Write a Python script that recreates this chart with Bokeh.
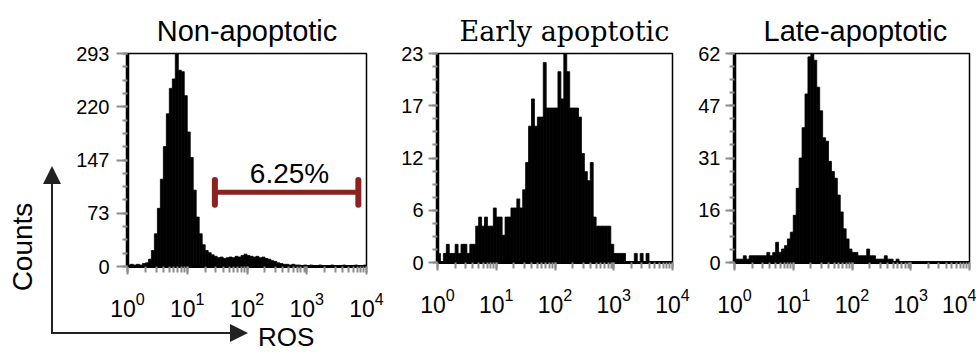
import math
from bokeh.plotting import figure
from bokeh.layouts import row, column
from bokeh.models import (Range1d, FixedTicker, LogTicker, Label, Div)
from bokeh.embed import file_html
from bokeh.resources import INLINE

# ---------------- data ----------------
bin_width_log = 0.05          # histogram channel width in decades
x_start, x_end = 1, 10000

non_apoptotic_counts = [
    2, 3, 2, 3, 2, 4, 5, 10, 22, 45,
    80, 120, 165, 210, 245, 258, 293, 270, 268, 235,
    185, 150, 105, 68, 45, 30, 22, 19, 16, 14,
    12, 13, 11, 12, 13, 12, 14, 13, 15, 17,
    15, 14, 13, 14, 12, 13, 11, 10, 8, 7,
    5, 4, 3, 3, 2, 3, 2, 2, 1, 2,
    1, 2, 1, 1, 2, 1, 1, 1, 2, 1,
    1, 1, 2, 1, 1, 1, 2, 1, 1, 2,
]
early_apoptotic_counts = [
    1, 0, 1, 2, 1, 1, 2, 1, 2, 2,
    1, 2, 2, 4, 5, 4, 5, 4, 4, 6,
    5, 5, 3, 5, 5, 6, 6, 7, 6, 8,
    11, 15, 18, 15, 16, 16, 22, 17, 17, 17,
    17, 21, 18, 23, 21, 17, 17, 17, 16, 12,
    10, 9, 11, 5, 4, 4, 4, 4, 4, 2,
    1, 1, 1, 1, 0, 0, 0, 1, 0, 1,
    0, 1, 0, 0, 0, 0, 0, 0, 0, 0,
]
late_apoptotic_counts = [
    1, 1, 1, 2, 1, 2, 2, 2, 2, 2,
    2, 3, 2, 3, 6, 3, 4, 5, 7, 9,
    14, 22, 31, 40, 50, 61, 62, 60, 52, 45,
    37, 36, 30, 27, 25, 20, 15, 10, 7, 4,
    3, 3, 2, 2, 2, 4, 2, 2, 1, 1,
    1, 2, 1, 1, 0, 1, 0, 0, 0, 0,
    0, 0, 0, 0, 0, 0, 0, 0, 0, 0,
    0, 0, 0, 0, 0, 0, 0, 0, 0, 0,
]

titles = ["Non-apoptotic", "Early apoptotic", "Late-apoptotic"]
y_max = [293, 23, 62]
y_tick_labels = [
    ["0", "73", "147", "220", "293"],
    ["0", "6", "12", "17", "23"],
    ["0", "16", "31", "47", "62"],
]
y_axis_title = "Counts"
x_axis_title = "ROS"

gate_low, gate_high, gate_level = 29, 7300, 102
gate_cap_half = 17
gate_label = "6.25%"
gate_label_x, gate_label_y = 515, 128

SANS = "Liberation Sans"
SERIF = "DejaVu Serif"
GATE_RED = "#8a2222"
TICK_GRAY = "#8c8c8c"
ARROW = "#222222"

H = 352
TOP = 53


def make_panel(counts, ymax, labels, title, width, height, bl, br, frame_h,
               title_font, title_size, title_align, title_offset, tick_out, standoff):
    p = figure(width=width, height=height, x_axis_type="log",
               x_range=Range1d(x_start, x_end), y_range=Range1d(0, ymax),
               output_backend="svg", toolbar_location=None,
               min_border_left=bl, min_border_right=br,
               min_border_top=TOP, min_border_bottom=height - TOP - frame_h)
    n = len(counts)
    lefts = [10 ** (i * bin_width_log) for i in range(n)]
    rights = [10 ** ((i + 1) * bin_width_log) for i in range(n)]
    p.quad(left=lefts, right=rights, bottom=0, top=counts,
           fill_color="black", line_color="black", line_width=0.8)

    p.grid.visible = False
    p.outline_line_color = "black"
    p.outline_line_width = 1.5
    p.background_fill_color = "white"
    p.border_fill_color = "white"

    p.title.text = title
    p.title.align = title_align
    p.title.text_font = title_font
    p.title.text_font_size = title_size
    p.title.text_font_style = "normal"
    p.title.text_color = "black"
    p.title.offset = title_offset
    p.title.standoff = 14

    xa = p.xaxis[0]
    xa.ticker = LogTicker(num_minor_ticks=10, desired_num_ticks=5)
    xa.axis_line_color = "black"
    xa.axis_line_width = 3
    xa.major_tick_line_color = TICK_GRAY
    xa.minor_tick_line_color = TICK_GRAY
    xa.major_tick_line_width = 2
    xa.minor_tick_line_width = 2
    xa.major_tick_out = 8
    xa.major_tick_in = 0
    xa.minor_tick_out = 6
    xa.minor_tick_in = 0
    xa.major_label_text_font = SANS
    xa.major_label_text_font_size = "23px"
    xa.major_label_text_color = "black"
    xa.major_label_standoff = 17

    ticks = [ymax * k / 4 for k in range(5)]
    ya = p.yaxis[0]
    ya.ticker = FixedTicker(ticks=ticks, minor_ticks=[ymax * k / 16 for k in range(17)])
    ya.major_label_overrides = {t: lab for t, lab in zip(ticks, labels)}
    ya.axis_line_color = "black"
    ya.axis_line_width = 3.5
    ya.major_tick_line_color = TICK_GRAY
    ya.minor_tick_line_color = TICK_GRAY
    ya.major_tick_line_width = 2
    ya.minor_tick_line_width = 2
    ya.major_tick_out = tick_out
    ya.major_tick_in = 0
    ya.minor_tick_out = 5
    ya.minor_tick_in = 0
    ya.major_label_text_font = SANS
    ya.major_label_text_font_size = "20px"
    ya.major_label_text_color = "black"
    ya.major_label_standoff = standoff
    return p


LEFT_W = 66
P1_W = 392 - LEFT_W
P1_H = 322

p1 = make_panel(non_apoptotic_counts, y_max[0], y_tick_labels[0], titles[0],
                P1_W, P1_H, 127 - LEFT_W, 26, 213, SANS, "29px", "center", 0, 11, 7)
p2 = make_panel(early_apoptotic_counts, y_max[1], y_tick_labels[1], titles[1],
                298, H, 45, 18, 209, SERIF, "27px", "left", 22, 9, 5)
p3 = make_panel(late_apoptotic_counts, y_max[2], y_tick_labels[2], titles[2],
                286, H, 44, 7, 209, SANS, "29px", "left", 29, 9, 5)

# gate bar on the non-apoptotic panel
p1.segment(x0=gate_low, x1=gate_high, y0=gate_level, y1=gate_level,
           line_color=GATE_RED, line_width=5)
p1.segment(x0=[gate_low, gate_high], x1=[gate_low, gate_high],
           y0=gate_level - gate_cap_half, y1=gate_level + gate_cap_half,
           line_color=GATE_RED, line_width=6, line_cap="round")
p1.add_layout(Label(x=gate_label_x, y=gate_label_y, text=gate_label,
                    text_align="center", text_baseline="alphabetic",
                    text_font=SANS, text_font_size="28px", text_color="black"))

# left strip: vertical "Counts" arrow
left_svg = (
    f'<svg xmlns="http://www.w3.org/2000/svg" width="{LEFT_W}" height="{H}" style="display:block">'
    f'<line x1="52" y1="334" x2="52" y2="180" stroke="{ARROW}" stroke-width="2"/>'
    f'<polygon points="52,166 43,184 61,184" fill="{ARROW}"/>'
    f'<line x1="51" y1="333" x2="{LEFT_W}" y2="333" stroke="{ARROW}" stroke-width="2"/>'
    f'<text x="22" y="247" transform="rotate(-90 22 247)" text-anchor="middle" '
    f'dominant-baseline="central" font-family="{SANS}" font-size="28px" fill="black">{y_axis_title}</text>'
    '</svg>'
)
left = Div(text=left_svg, width=LEFT_W, height=H,
           styles={"margin": "0", "padding": "0", "overflow": "visible"})

# bottom strip under panel 1: horizontal "ROS" arrow
bh = H - P1_H
bottom_svg = (
    f'<svg xmlns="http://www.w3.org/2000/svg" width="{P1_W}" height="{bh}" style="display:block">'
    f'<line x1="0" y1="11" x2="166" y2="11" stroke="{ARROW}" stroke-width="2"/>'
    f'<polygon points="182,11 164,2 164,20" fill="{ARROW}"/>'
    f'<text x="192" y="24" text-anchor="start" font-family="{SANS}" font-size="26px" '
    f'fill="black">{x_axis_title}</text>'
    '</svg>'
)
bottom = Div(text=bottom_svg, width=P1_W, height=bh,
             styles={"margin": "0", "padding": "0", "overflow": "visible"})

layout = row(left, column(p1, bottom), p2, p3)
open("out.html", "w").write(file_html(layout, INLINE))
